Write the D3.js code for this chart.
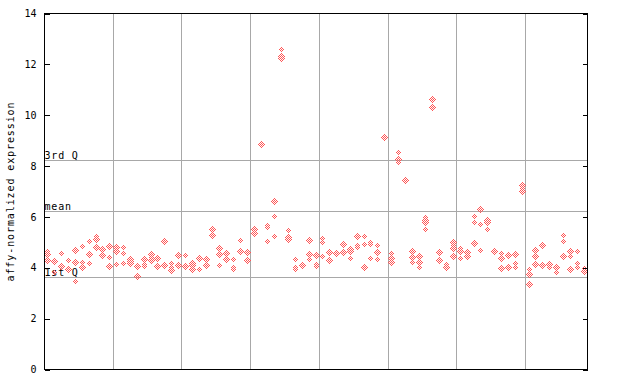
<!DOCTYPE html>
<html>
<head>
<meta charset="utf-8">
<script src="https://cdn.jsdelivr.net/npm/d3@7"></script>
<style>
  body { margin: 0; background: #fff; }
  text { font-family: "DejaVu Sans Mono", monospace; fill: #000; }
</style>
</head>
<body>
<div id="root"></div>
<script>
// one entry per sample, replicate values in each
const sampleValues = [
  [4.64, 4.54, 4.29], [4.29, 4.25, 3.81], [4.56, 4.05], [4.27, 3.99, 3.95],
  [4.67, 4.19, 3.45], [4.84, 4.22, 4.0], [5.03, 4.52, 4.17], [5.23, 5.15, 5.11, 4.79],
  [4.75, 4.71, 4.47], [4.84, 4.39, 4.04], [4.81, 4.66, 4.13], [4.79, 4.55, 4.17],
  [4.34, 4.27, 4.23, 4.18], [4.1, 4.06, 3.64], [4.33, 4.14, 4.05], [4.52, 4.39, 4.28, 4.24],
  [4.35, 4.1, 4.06], [5.03, 4.12, 4.08], [4.17, 4.02, 3.88], [4.47, 4.12, 4.08],
  [4.47, 4.04], [4.16, 4.1, 4.06, 3.94], [4.36, 4.32, 3.94], [4.36, 4.32, 4.1],
  [5.51, 5.26], [4.76, 4.53, 4.08], [4.57, 4.53, 4.34], [4.31, 4.0, 3.92],
  [5.06, 4.63, 4.59], [4.6, 4.27], [5.5, 5.46, 5.34], [8.9, 8.86],
  [5.67, 5.58, 5.02], [6.59, 6.0, 5.22], [12.57, 12.29, 12.25], [5.45, 5.2, 5.17, 5.13],
  [4.31, 4.02, 3.93], [4.08], [5.06, 4.51, 4.31], [4.47, 4.13, 4.05],
  [5.14, 4.98, 4.43], [4.61, 4.57, 4.27], [4.57, 4.53], [4.92, 4.65, 4.61, 4.55],
  [4.71, 4.65, 4.61, 4.35], [5.22, 4.88, 4.8], [5.22, 4.92, 4.0], [5.01, 4.92, 4.35],
  [4.86, 4.59, 4.31], [9.17, 9.13, 9.09], [4.56, 4.38, 4.2], [8.52, 8.25, 8.13],
  [7.49, 7.45], [4.63, 4.42, 4.21], [4.44, 4.21, 4.0], [5.99, 5.87, 5.79, 5.49],
  [10.62, 10.58, 10.29], [4.59, 4.28, 4.24], [4.13, 4.04, 4.0], [4.98, 4.88, 4.77, 4.43],
  [4.75, 4.63, 4.59, 4.38], [4.63, 4.59, 4.43], [6.0, 5.77, 4.94], [6.28, 5.69, 4.67],
  [5.89, 5.85, 5.77, 5.49], [4.63, 4.59], [4.56, 4.38, 3.96], [4.47, 4.0, 3.96],
  [4.52, 4.18, 4.0], [7.24, 7.1, 7.0], [3.92, 3.72, 3.33], [4.67, 4.43, 4.12],
  [4.86, 4.08], [4.13, 4.02], [4.0, 3.96, 3.8], [5.26, 5.02, 4.43],
  [4.63, 4.43, 3.92], [4.63, 4.16, 4.0], [3.98, 3.9, 3.86]
];

// vertical separators sit between these sample positions
const groupBreaks = [9.5, 19.5, 29.5, 39.5, 49.5, 59.5, 69.5];

const statLabels = ["1st Q", "mean", "3rd Q"];
const statValues = [3.62, 6.21, 8.22];

const yTicks = [0, 2, 4, 6, 8, 10, 12, 14];
const yTitle = "affy-normalized expression";

const width = 640;
const height = 384;
const plot = { left: 44.5, right: 587.5, top: 13.5, bottom: 369.5 };
const red = "#ff5555";
const gridGrey = "#a8a8a8";

const svg = d3
  .select("#root")
  .append("svg")
  .attr("width", width)
  .attr("height", height)
  .style("display", "block");

// checker fill, two overlapping points at 1px offset come out solid
const defs = svg.append("defs");
const pat = defs
  .append("pattern")
  .attr("id", "checker")
  .attr("patternUnits", "userSpaceOnUse")
  .attr("width", 2)
  .attr("height", 2);
pat.append("rect").attr("x", 0).attr("y", 0).attr("width", 1).attr("height", 1).attr("fill", red);
pat.append("rect").attr("x", 1).attr("y", 1).attr("width", 1).attr("height", 1).attr("fill", red);

const xScale = d3
  .scaleLinear()
  .domain([-0.5, sampleValues.length - 0.5])
  .range([plot.left, plot.right]);

const yScale = d3.scaleLinear().domain([0, 14]).range([plot.bottom, plot.top]);

const snap = (v) => Math.floor(v) + 0.5;

// grid
svg
  .append("g")
  .selectAll("line")
  .data(groupBreaks)
  .enter()
  .append("line")
  .attr("x1", (d) => snap(xScale(d)))
  .attr("x2", (d) => snap(xScale(d)))
  .attr("y1", plot.top)
  .attr("y2", plot.bottom)
  .attr("stroke", gridGrey)
  .attr("shape-rendering", "crispEdges");

svg
  .append("g")
  .selectAll("line")
  .data(statValues)
  .enter()
  .append("line")
  .attr("x1", plot.left)
  .attr("x2", plot.right)
  .attr("y1", (d) => snap(yScale(d)))
  .attr("y2", (d) => snap(yScale(d)))
  .attr("stroke", gridGrey)
  .attr("shape-rendering", "crispEdges");

svg
  .append("g")
  .selectAll("text")
  .data(statValues)
  .enter()
  .append("text")
  .attr("x", plot.left)
  .attr("y", (d) => snap(yScale(d)) - 1.5)
  .attr("font-size", 10)
  .attr("letter-spacing", 0.8)
  .text((d, i) => statLabels[i]);

// points
const points = [];
sampleValues.forEach((vals, i) => {
  vals.forEach((v) => points.push({ i: i, v: v }));
});

svg
  .append("g")
  .selectAll("path")
  .data(points)
  .enter()
  .append("path")
  .attr("d", (p) => {
    const cx = snap(xScale(p.i));
    const cy = snap(yScale(p.v));
    const r = 3.5;
    return `M${cx},${cy - r}L${cx + r},${cy}L${cx},${cy + r}L${cx - r},${cy}Z`;
  })
  .attr("fill", "url(#checker)")
  .attr("shape-rendering", "crispEdges");

// axes
const yAxis = d3
  .axisLeft(yScale)
  .tickValues(yTicks)
  .tickSizeInner(-5)
  .tickSizeOuter(0)
  .tickPadding(8)
  .tickFormat(d3.format("d"));

const gY = svg.append("g").attr("transform", `translate(${plot.left},0)`).call(yAxis);
gY.selectAll(".tick text").attr("font-size", 10).style("font-family", "DejaVu Sans Mono");
gY.select(".domain").remove();
gY.selectAll("line").attr("shape-rendering", "crispEdges");

const yAxisRight = d3
  .axisRight(yScale)
  .tickValues(yTicks)
  .tickSizeInner(-5)
  .tickSizeOuter(0)
  .tickFormat("");

const gYR = svg.append("g").attr("transform", `translate(${plot.right},0)`).call(yAxisRight);
gYR.select(".domain").remove();
gYR.selectAll("line").attr("shape-rendering", "crispEdges");

svg
  .append("rect")
  .attr("x", plot.left)
  .attr("y", plot.top)
  .attr("width", plot.right - plot.left)
  .attr("height", plot.bottom - plot.top)
  .attr("fill", "none")
  .attr("stroke", "#000")
  .attr("shape-rendering", "crispEdges");

svg
  .append("text")
  .attr("transform", `translate(14,${(plot.top + plot.bottom) / 2}) rotate(-90)`)
  .attr("text-anchor", "middle")
  .attr("font-size", 10)
  .attr("letter-spacing", 0.9)
  .text(yTitle);
</script>
</body>
</html>
